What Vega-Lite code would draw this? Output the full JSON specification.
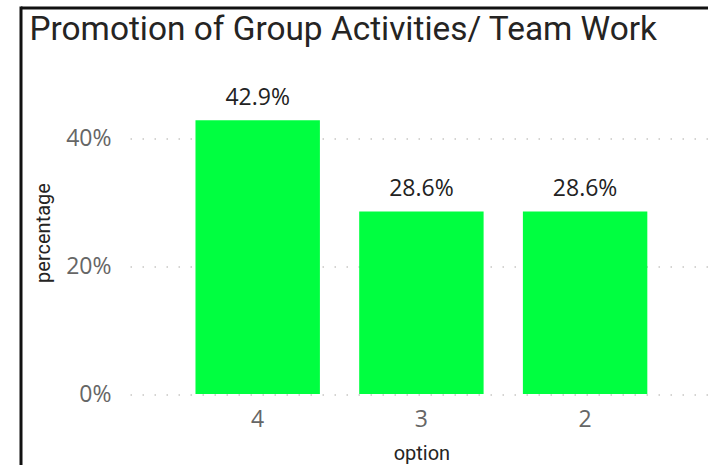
{
  "$schema": "https://vega.github.io/schema/vega-lite/v6.json",
  "width": 687.5,
  "height": 457.5,
  "autosize": {"type": "none"},
  "padding": {"left": 20.5, "top": 7.5, "right": 0, "bottom": 0},
  "background": "white",
  "view": {"stroke": null},
  "title": {
    "text": "Promotion of Group Activities/ Team Work",
    "anchor": "start",
    "frame": "group",
    "orient": "top",
    "offset": 0,
    "baseline": "alphabetic",
    "dx": 9,
    "dy": 66,
    "font": "Roboto",
    "fontSize": 33.4,
    "fontWeight": "normal",
    "color": "#252423"
  },
  "layer": [
    {
      "data": {
        "values": [
          {"option": "4", "percentage": 0.4286},
          {"option": "3", "percentage": 0.2857},
          {"option": "2", "percentage": 0.2857}
        ]
      },
      "encoding": {
        "x": {
          "field": "option",
          "type": "nominal",
          "sort": ["4", "3", "2"],
          "scale": {"range": [109.5, 692.3], "paddingInner": 0.24, "paddingOuter": 0.4},
          "axis": {
            "orient": "bottom",
            "offset": -71,
            "labelAngle": 0,
            "labelFont": "Open Sans",
            "labelFontSize": 23,
            "labelColor": "#666666",
            "labelPadding": 14,
            "ticks": false,
            "tickSize": 0,
            "domain": false,
            "grid": false,
            "title": "option",
            "titleFont": "Roboto",
            "titleFontSize": 20,
            "titleFontWeight": "normal",
            "titleColor": "#252423",
            "titlePadding": 12
          }
        },
        "y": {
          "field": "percentage",
          "type": "quantitative",
          "scale": {"domain": [0, 0.5055], "range": [386.5, 63.5], "nice": false, "zero": false},
          "axis": {
            "orient": "left",
            "offset": -109.5,
            "values": [0, 0.2, 0.4],
            "format": ".0%",
            "labelFont": "Open Sans",
            "labelFontSize": 23,
            "labelColor": "#666666",
            "labelPadding": 19,
            "ticks": false,
            "tickSize": 0,
            "domain": false,
            "grid": true,
            "gridColor": "#C8C6C4",
            "gridDash": [1.5, 10.5],
            "gridWidth": 1.5,
            "title": "percentage",
            "titleFont": "Roboto",
            "titleFontSize": 20,
            "titleFontWeight": "normal",
            "titleColor": "#252423",
            "titlePadding": 12
          }
        }
      },
      "layer": [
        {"mark": {"type": "bar", "color": "#00FF40"}, "encoding": {"y2": {"datum": 0}}},
        {
          "mark": {"type": "text", "baseline": "alphabetic", "dy": -15.5, "font": "Open Sans", "fontSize": 23, "color": "#222222"},
          "encoding": {"text": {"field": "percentage", "type": "quantitative", "format": ".1%"}}
        }
      ]
    },
    {
      "data": {"values": [{"f": 0}]},
      "mark": {"type": "point", "opacity": 0},
      "encoding": {
        "x": {
          "field": "f",
          "type": "quantitative",
          "scale": {"domain": [0, 1]},
          "axis": {"orient": "top", "domain": true, "domainColor": "#111111", "domainWidth": 3, "domainCap": "butt", "ticks": false, "labels": false, "grid": false, "title": null}
        },
        "y": {
          "field": "f",
          "type": "quantitative",
          "scale": {"domain": [0, 1]},
          "axis": {"orient": "left", "domain": true, "domainColor": "#111111", "domainWidth": 3, "domainCap": "square", "ticks": false, "labels": false, "grid": false, "title": null}
        }
      }
    }
  ],
  "resolve": {
    "scale": {"x": "independent", "y": "independent"},
    "axis": {"x": "independent", "y": "independent"}
  }
}
